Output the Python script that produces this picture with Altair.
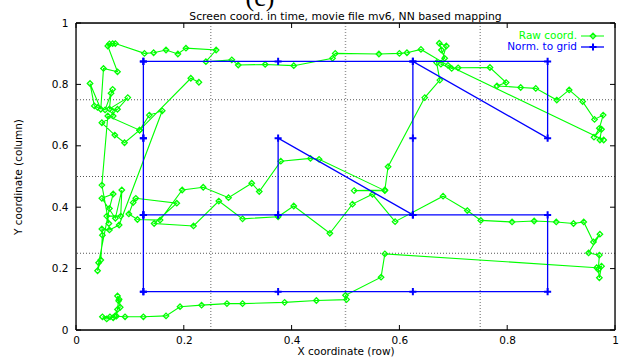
import altair as alt
import pandas as pd

# ---------------- data ----------------
raw_x = [0.072, 0.057, 0.049, 0.063, 0.069, 0.077, 0.082, 0.080, 0.077, 0.079, 0.075, 0.091, 0.125, 0.167,
         0.193, 0.233, 0.280, 0.309, 0.387, 0.446, 0.502, 0.500, 0.566, 0.573,
         0.966, 0.975, 0.971, 0.969, 0.971, 0.951, 0.972, 0.960, 0.942,
         0.923, 0.891, 0.850, 0.809, 0.751, 0.726, 0.681, 0.592, 0.550, 0.513, 0.471, 0.404, 0.375, 0.309,
         0.265, 0.218, 0.145, 0.187, 0.111, 0.106, 0.098, 0.114, 0.156, 0.197, 0.236, 0.283, 0.326, 0.340,
         0.380, 0.435, 0.451, 0.573, 0.516, 0.573, 0.579, 0.647, 0.675,
         0.669, 0.684, 0.678, 0.674, 0.687, 0.677, 0.697, 0.709, 0.768, 0.798, 0.781, 0.825, 0.853, 0.892,
         0.915, 0.940, 0.962, 0.978, 0.971, 0.961, 0.975, 0.972, 0.979,
         0.690, 0.640, 0.614, 0.600, 0.562, 0.481, 0.476, 0.404, 0.351, 0.301, 0.289, 0.241, 0.260, 0.204,
         0.189, 0.167, 0.144, 0.127, 0.073, 0.062, 0.068, 0.059, 0.077, 0.051,
         0.046, 0.026, 0.034, 0.040, 0.054, 0.068, 0.065, 0.062, 0.096, 0.077, 0.068, 0.069, 0.048, 0.072,
         0.090, 0.118, 0.136, 0.160, 0.080, 0.062, 0.048, 0.049, 0.046, 0.040, 0.042, 0.062, 0.069, 0.048,
         0.073, 0.085, 0.083, 0.057, 0.061, 0.048, 0.059, 0.118, 0.213, 0.228]
raw_y = [0.045, 0.036, 0.043, 0.043, 0.040, 0.067, 0.074, 0.100, 0.111, 0.095, 0.045, 0.043, 0.043, 0.046,
         0.076, 0.081, 0.086, 0.086, 0.090, 0.096, 0.099, 0.113, 0.172, 0.248,
         0.203, 0.208, 0.170, 0.197, 0.244, 0.251, 0.312, 0.287, 0.352,
         0.347, 0.352, 0.355, 0.352, 0.357, 0.389, 0.436, 0.353, 0.442, 0.410, 0.315, 0.404, 0.369, 0.362,
         0.420, 0.339, 0.347, 0.413, 0.429, 0.415, 0.378, 0.360, 0.358, 0.456, 0.465, 0.431, 0.478, 0.451,
         0.550, 0.559, 0.556, 0.454, 0.454, 0.456, 0.532, 0.757, 0.814,
         0.871, 0.885, 0.912, 0.934, 0.925, 0.866, 0.852, 0.854, 0.855, 0.806, 0.795, 0.790, 0.787, 0.749,
         0.782, 0.744, 0.686, 0.700, 0.657, 0.628, 0.654, 0.619, 0.619,
         0.862, 0.914, 0.903, 0.901, 0.899, 0.901, 0.885, 0.861, 0.865, 0.863, 0.880, 0.874, 0.912, 0.918,
         0.899, 0.912, 0.903, 0.901, 0.933, 0.932, 0.933, 0.925, 0.841, 0.852,
         0.719, 0.803, 0.730, 0.725, 0.717, 0.784, 0.771, 0.720, 0.757, 0.719, 0.713, 0.697, 0.675, 0.635,
         0.610, 0.651, 0.700, 0.714, 0.342, 0.326, 0.329, 0.309, 0.228, 0.193, 0.219, 0.396, 0.443, 0.429,
         0.364, 0.456, 0.371, 0.371, 0.347, 0.472, 0.697, 0.651, 0.820, 0.807]

grid_x = [0.125, 0.375, 0.625, 0.875, 0.875, 0.625, 0.375, 0.125, 0.375, 0.375, 0.625, 0.625,
          0.625, 0.875, 0.875, 0.625, 0.375, 0.125, 0.125, 0.125, 0.125, 0.125, 0.125, 0.125]
grid_y = [0.125, 0.125, 0.125, 0.125, 0.375, 0.375, 0.375, 0.375, 0.375, 0.625, 0.375, 0.625,
          0.875, 0.875, 0.625, 0.875, 0.875, 0.875, 0.625, 0.375, 0.125, 0.375, 0.625, 0.875]

tick_values = [0, 0.2, 0.4, 0.6, 0.8, 1]
grid_lines = [0.25, 0.5, 0.75]

caption_label = "(c)"
title_text = "Screen coord. in time, movie file mv6, NN based mapping"
x_title = "X coordinate (row)"
y_title = "Y coordinate (column)"
legend_labels = ["Raw coord.", "Norm. to grid"]

# ---------------- styling ----------------
W, H = 539, 307
FONT = "DejaVu Sans"
GREEN = "#00ff00"
BLUE = "#0000ff"
PLUS = "M-1,0L1,0M0,-1L0,1"

raw_df = pd.DataFrame({"x": raw_x, "y": raw_y, "i": list(range(len(raw_x)))})
grid_df = pd.DataFrame({"x": grid_x, "y": grid_y, "i": list(range(len(grid_x)))})
ticks_df = pd.DataFrame({"t": tick_values})
gl_df = pd.DataFrame({"g": grid_lines})
one = pd.DataFrame({"a": [0]})

xs = alt.Scale(domain=[0, 1], nice=False, zero=False)
ys = alt.Scale(domain=[0, 1], nice=False, zero=False)

x_axis = alt.Axis(values=tick_values, format="~g", grid=False, domain=False, ticks=False,
                  labelFont=FONT, labelFontSize=10.5, labelColor="black", labelPadding=5,
                  labelFlush=False, title=x_title, titleFont=FONT, titleFontSize=10.5,
                  titleFontWeight="normal", titleColor="black", titleX=W / 2, titleY=21,
                  titleBaseline="middle", titleAlign="center")
y_axis = alt.Axis(values=tick_values, format="~g", grid=False, domain=False, ticks=False,
                  labelFont=FONT, labelFontSize=10.5, labelColor="black", labelPadding=8,
                  labelFlush=False, title=y_title, titleFont=FONT, titleFontSize=10.5,
                  titleFontWeight="normal", titleColor="black", titleX=-58, titleY=H / 2,
                  titleBaseline="middle", titleAlign="center", titleAngle=270)


def X(field):
    return alt.X(field, scale=xs, axis=x_axis)


def Y(field):
    return alt.Y(field, scale=ys, axis=y_axis)


vgrid = alt.Chart(gl_df).mark_rule(color="#999999", strokeDash=[1, 2], strokeWidth=1.5).encode(
    x=X("g:Q"))
hgrid = alt.Chart(gl_df).mark_rule(color="#555555", strokeDash=[1, 2], strokeWidth=1).encode(
    y=Y("g:Q"))

raw_line = alt.Chart(raw_df).mark_line(color=GREEN, strokeWidth=1.1).encode(
    x=X("x:Q"), y=Y("y:Q"), order="i:Q")
raw_pts = alt.Chart(raw_df).mark_point(shape="diamond", filled=False, color=GREEN, size=30,
                                       strokeWidth=1.3, opacity=1).encode(x=X("x:Q"), y=Y("y:Q"))

grid_line = alt.Chart(grid_df).mark_line(color=BLUE, strokeWidth=1.3).encode(
    x=X("x:Q"), y=Y("y:Q"), order="i:Q")
grid_pts = alt.Chart(grid_df).mark_point(shape=PLUS, filled=False, color=BLUE, size=50,
                                         strokeWidth=2, opacity=1).encode(x=X("x:Q"), y=Y("y:Q"))

# inward ticks on all four sides
TL = 5
t_left = alt.Chart(ticks_df).mark_rule(color="black").encode(
    y=Y("t:Q"), x=alt.value(0), x2=alt.value(TL))
t_right = alt.Chart(ticks_df).mark_rule(color="black").encode(
    y=Y("t:Q"), x=alt.value(W - TL), x2=alt.value(W))
t_top = alt.Chart(ticks_df).mark_rule(color="black").encode(
    x=X("t:Q"), y=alt.value(0), y2=alt.value(TL))
t_bot = alt.Chart(ticks_df).mark_rule(color="black").encode(
    x=X("t:Q"), y=alt.value(H - TL), y2=alt.value(H))

# plot frame
fr_l = alt.Chart(one).mark_rule(color="black", strokeWidth=1.3).encode(
    x=alt.value(0), y=alt.value(0), y2=alt.value(H))
fr_r = alt.Chart(one).mark_rule(color="black", strokeWidth=1.3).encode(
    x=alt.value(W), y=alt.value(0), y2=alt.value(H))
fr_t = alt.Chart(one).mark_rule(color="black", strokeWidth=1.3).encode(
    y=alt.value(0), x=alt.value(0), x2=alt.value(W))
fr_b = alt.Chart(one).mark_rule(color="black", strokeWidth=1.3).encode(
    y=alt.value(H), x=alt.value(0), x2=alt.value(W))

# title as text
title_mark = alt.Chart(one).mark_text(align="center", baseline="alphabetic", font=FONT,
                                      fontSize=10.8, color="black").encode(
    x=alt.value(W / 2), y=alt.value(-3), text=alt.value(title_text))

# large caption label, cut by the top edge as in the reference
caption_mark = alt.Chart(one).mark_text(align="center", baseline="alphabetic",
                                        font="Liberation Serif", fontSize=26, color="black").encode(
    x=alt.value(184), y=alt.value(-17), text=alt.value(caption_label))

# legend (top right, inside)
LX, LY1, LY2 = 501, 13, 24
leg_t1 = alt.Chart(one).mark_text(align="right", baseline="middle", font=FONT, fontSize=10.5,
                                  color=GREEN).encode(
    x=alt.value(LX), y=alt.value(LY1), text=alt.value(legend_labels[0]))
leg_t2 = alt.Chart(one).mark_text(align="right", baseline="middle", font=FONT, fontSize=10.5,
                                  color=BLUE).encode(
    x=alt.value(LX), y=alt.value(LY2), text=alt.value(legend_labels[1]))
leg_l1 = alt.Chart(one).mark_rule(color=GREEN, strokeWidth=1).encode(
    x=alt.value(LX + 4), x2=alt.value(LX + 27), y=alt.value(LY1))
leg_l2 = alt.Chart(one).mark_rule(color=BLUE, strokeWidth=1.3).encode(
    x=alt.value(LX + 4), x2=alt.value(LX + 27), y=alt.value(LY2))
leg_p1 = alt.Chart(one).mark_point(shape="diamond", filled=False, color=GREEN, size=30,
                                   strokeWidth=1.3, opacity=1).encode(
    x=alt.value(LX + 16), y=alt.value(LY1))
leg_p2 = alt.Chart(one).mark_point(shape=PLUS, filled=False, color=BLUE, size=50,
                                   strokeWidth=2, opacity=1).encode(
    x=alt.value(LX + 16), y=alt.value(LY2))

chart = alt.layer(
    vgrid, hgrid, raw_line, raw_pts, grid_line, grid_pts,
    t_left, t_right, t_top, t_bot, fr_l, fr_r, fr_t, fr_b, title_mark, caption_mark,
    leg_t1, leg_t2, leg_l1, leg_l2, leg_p1, leg_p2,
).properties(
    width=W, height=H,
    autosize=alt.AutoSizeParams(type="none"),
    padding={"left": 76, "top": 23, "right": 4, "bottom": 28},
).configure_view(stroke=None).configure(background="white")

chart.save("out.html", embed_options={"renderer": "svg", "actions": False})
